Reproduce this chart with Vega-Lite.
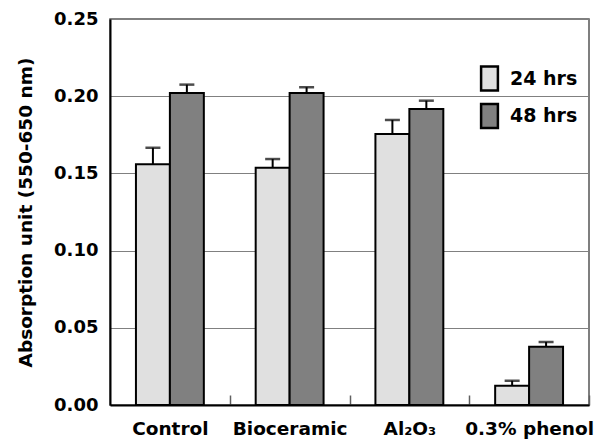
{
  "$schema": "https://vega.github.io/schema/vega-lite/v6.json",
  "autosize": {"type": "none"},
  "padding": {"left": 110, "top": 19, "right": 11, "bottom": 36},
  "width": 479,
  "height": 386,
  "background": "white",
  "config": {
    "font": "DejaVu Sans",
    "view": {"stroke": "#555555", "strokeWidth": 1.5}
  },
  "data": {
    "values": [
      {"group": "Control", "time": "24 hrs", "value": 0.156, "upper": 0.1666},
      {"group": "Control", "time": "48 hrs", "value": 0.2021, "upper": 0.2075},
      {"group": "Bioceramic", "time": "24 hrs", "value": 0.1537, "upper": 0.1593},
      {"group": "Bioceramic", "time": "48 hrs", "value": 0.2021, "upper": 0.2058},
      {"group": "Al₂O₃", "time": "24 hrs", "value": 0.1755, "upper": 0.1846},
      {"group": "Al₂O₃", "time": "48 hrs", "value": 0.1917, "upper": 0.1971},
      {"group": "0.3% phenol", "time": "24 hrs", "value": 0.0125, "upper": 0.0157},
      {"group": "0.3% phenol", "time": "48 hrs", "value": 0.0378, "upper": 0.0408}
    ]
  },
  "encoding": {
    "x": {
      "field": "group",
      "type": "nominal",
      "sort": ["Control", "Bioceramic", "Al₂O₃", "0.3% phenol"],
      "scale": {"paddingInner": 0.433, "paddingOuter": 0.2167},
      "axis": {
        "title": null,
        "labelAngle": 0,
        "labelFont": "DejaVu Sans",
        "labelFontWeight": "bold",
        "labelFontSize": 18.5,
        "labelColor": "black",
        "labelPadding": 24,
        "labelOffset": -59.9,
        "domainColor": "black",
        "domainWidth": 2,
        "tickOffset": 59.9,
        "tickSize": -10,
        "tickColor": "#606060",
        "tickWidth": 1.5
      }
    },
    "xOffset": {"field": "time", "type": "nominal", "scale": {"paddingInner": 0, "paddingOuter": 0}}
  },
  "layer": [
    {
      "mark": {"type": "bar", "stroke": "black", "strokeWidth": 2},
      "encoding": {
        "y": {
          "field": "value",
          "type": "quantitative",
          "scale": {"domain": [0, 0.25], "nice": false},
          "axis": {
            "title": "Absorption unit (550-650 nm)",
            "titleFont": "DejaVu Sans",
            "titleFontWeight": "bold",
            "titleFontSize": 18.5,
            "titleColor": "black",
            "titlePadding": 18,
            "values": [0, 0.05, 0.1, 0.15, 0.2, 0.25],
            "format": ".2f",
            "labelFont": "DejaVu Sans",
            "labelFontWeight": "bold",
            "labelFontSize": 18,
            "labelColor": "black",
            "labelPadding": 12,
            "ticks": false,
            "domainColor": "black",
            "domainWidth": 2,
            "grid": true,
            "gridColor": "#808080",
            "gridWidth": 1
          }
        },
        "color": {
          "field": "time",
          "type": "nominal",
          "scale": {"domain": ["24 hrs", "48 hrs"], "range": ["#e0e0e0", "#808080"]},
          "legend": {
            "title": null,
            "orient": "none",
            "legendX": 366,
            "legendY": 46,
            "padding": 0,
            "symbolType": "M-0.7,-1H0.7V1H-0.7Z",
            "symbolSize": 576,
            "symbolStrokeColor": "black",
            "symbolStrokeWidth": 2.5,
            "symbolOpacity": 1,
            "labelFont": "DejaVu Sans",
            "labelFontWeight": "bold",
            "labelFontSize": 19,
            "labelColor": "black",
            "labelOffset": 7,
            "rowPadding": 2.5
          }
        }
      }
    },
    {
      "mark": {"type": "rule", "color": "black", "strokeWidth": 2},
      "encoding": {
        "y": {"field": "value", "type": "quantitative"},
        "y2": {"field": "upper"}
      }
    },
    {
      "mark": {"type": "tick", "color": "black", "thickness": 2.5, "size": 15, "orient": "horizontal"},
      "encoding": {
        "y": {"field": "upper", "type": "quantitative"}
      }
    }
  ]
}
